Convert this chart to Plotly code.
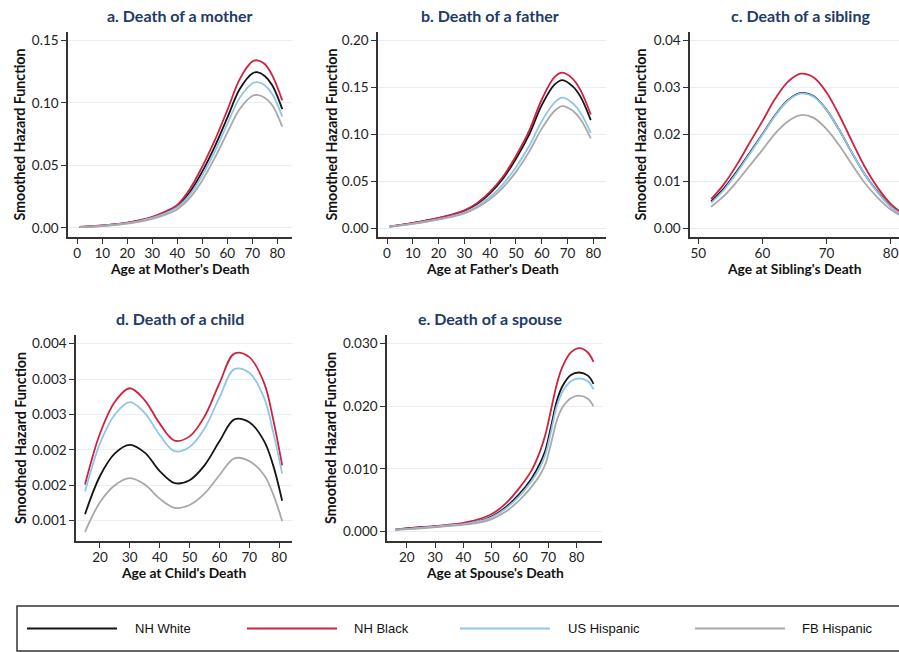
import plotly.graph_objects as go

# ---------------- DATA ----------------
series_names = ["NH White", "NH Black", "US Hispanic", "FB Hispanic"]

# a. Death of a mother
age_mother = [1, 5, 10, 15, 20, 25, 30, 35, 40, 45, 50, 55, 60, 65, 70, 72, 75, 78, 82]
mother_white = [0.0008, 0.0012, 0.0019, 0.0028, 0.0040, 0.0058, 0.0085, 0.0122, 0.0175, 0.0285, 0.045, 0.065, 0.088, 0.111, 0.1235, 0.1245, 0.1215, 0.114, 0.095]
mother_black = [0.0008, 0.0013, 0.0020, 0.0030, 0.0043, 0.0062, 0.0090, 0.0130, 0.0185, 0.031, 0.049, 0.070, 0.094, 0.119, 0.1330, 0.1340, 0.1310, 0.122, 0.102]
mother_ushisp = [0.0007, 0.0011, 0.0018, 0.0026, 0.0038, 0.0055, 0.0080, 0.0115, 0.0165, 0.0265, 0.042, 0.061, 0.083, 0.104, 0.1155, 0.1165, 0.1140, 0.107, 0.089]
mother_fbhisp = [0.0007, 0.0010, 0.0016, 0.0024, 0.0035, 0.0050, 0.0072, 0.0104, 0.0150, 0.024, 0.038, 0.056, 0.076, 0.095, 0.1055, 0.1063, 0.1040, 0.098, 0.081]

# b. Death of a father
age_father = [1, 5, 10, 15, 20, 25, 30, 35, 40, 45, 50, 55, 60, 65, 68, 72, 75, 79]
father_white = [0.0018, 0.0034, 0.0055, 0.0080, 0.0107, 0.0140, 0.0185, 0.026, 0.0375, 0.053, 0.074, 0.099, 0.131, 0.153, 0.1577, 0.151, 0.140, 0.115]
father_black = [0.0018, 0.0035, 0.0057, 0.0082, 0.0110, 0.0145, 0.0190, 0.027, 0.0390, 0.055, 0.077, 0.103, 0.137, 0.161, 0.1655, 0.159, 0.147, 0.121]
father_ushisp = [0.0016, 0.0030, 0.0050, 0.0072, 0.0097, 0.0127, 0.0167, 0.0235, 0.0335, 0.047, 0.065, 0.087, 0.114, 0.134, 0.1390, 0.133, 0.123, 0.1016]
father_fbhisp = [0.0015, 0.0028, 0.0047, 0.0068, 0.0092, 0.0120, 0.0157, 0.0220, 0.0310, 0.0435, 0.060, 0.081, 0.106, 0.125, 0.1300, 0.125, 0.116, 0.0956]

# c. Death of a sibling
age_sibling = [52, 54, 56, 58, 60, 62, 64, 66, 68, 70, 72, 74, 76, 78, 80, 82]
sibling_white = [0.0057, 0.0085, 0.0121, 0.0160, 0.0200, 0.0241, 0.0273, 0.0288, 0.0281, 0.0252, 0.0209, 0.0160, 0.0114, 0.0077, 0.0047, 0.0028]
sibling_black = [0.0062, 0.0094, 0.0135, 0.0182, 0.0228, 0.0276, 0.0312, 0.0329, 0.0321, 0.0289, 0.0240, 0.0184, 0.0130, 0.0086, 0.0052, 0.0030]
sibling_ushisp = [0.0054, 0.0082, 0.0118, 0.0158, 0.0199, 0.0240, 0.0272, 0.0287, 0.0280, 0.0252, 0.0209, 0.0160, 0.0114, 0.0076, 0.0046, 0.0027]
sibling_fbhisp = [0.0046, 0.0069, 0.0099, 0.0133, 0.0167, 0.0202, 0.0228, 0.0241, 0.0235, 0.0211, 0.0176, 0.0135, 0.0096, 0.0065, 0.0040, 0.0024]

# d. Death of a child
age_child = [15, 20, 25, 30, 35, 40, 45, 50, 55, 60, 65, 70, 75, 78, 81]
child_white = [0.00109, 0.00163, 0.00195, 0.00207, 0.00196, 0.00170, 0.00153, 0.00157, 0.00178, 0.00212, 0.00243, 0.00239, 0.00212, 0.00178, 0.00128]
child_black = [0.00151, 0.00223, 0.00268, 0.00287, 0.00270, 0.00237, 0.00213, 0.00219, 0.00247, 0.00294, 0.00336, 0.00331, 0.00294, 0.00243, 0.00178]
child_ushisp = [0.00141, 0.00209, 0.00250, 0.002675, 0.00252, 0.00221, 0.00198, 0.00204, 0.00230, 0.00274, 0.00314, 0.00309, 0.00273, 0.00225, 0.001665]
child_fbhisp = [0.00084, 0.00126, 0.00150, 0.00160, 0.00151, 0.00131, 0.00118, 0.00122, 0.00138, 0.00164, 0.00188, 0.00184, 0.00164, 0.00137, 0.000995]

# e. Death of a spouse
age_spouse = [16, 20, 25, 30, 35, 40, 45, 50, 55, 60, 64, 67, 69, 71, 73, 75, 78, 81, 84, 86]
spouse_white = [0.0003, 0.0005, 0.0007, 0.0008, 0.0010, 0.0012, 0.0016, 0.0024, 0.0039, 0.0061, 0.0084, 0.0108, 0.0130, 0.0168, 0.0208, 0.0232, 0.0250, 0.0254, 0.0249, 0.0236]
spouse_black = [0.0003, 0.0005, 0.0007, 0.0009, 0.0011, 0.0014, 0.0019, 0.0028, 0.0045, 0.0071, 0.0097, 0.0127, 0.0155, 0.0195, 0.0235, 0.0263, 0.0286, 0.0293, 0.0286, 0.0271]
spouse_ushisp = [0.0003, 0.0004, 0.0006, 0.0008, 0.0010, 0.0012, 0.0016, 0.0023, 0.0037, 0.0058, 0.0080, 0.0102, 0.0123, 0.0160, 0.0200, 0.0223, 0.0240, 0.02445, 0.0240, 0.0227]
spouse_fbhisp = [0.0003, 0.0004, 0.0005, 0.0007, 0.0009, 0.0011, 0.0014, 0.0020, 0.0032, 0.0051, 0.0071, 0.0090, 0.0108, 0.0141, 0.0177, 0.0198, 0.0213, 0.0217, 0.0212, 0.0200]

panel_titles = ["a. Death of a mother", "b. Death of a father", "c. Death of a sibling",
                "d. Death of a child", "e. Death of a spouse"]
x_titles = ["Age at Mother's Death", "Age at Father's Death", "Age at Sibling's Death",
            "Age at Child's Death", "Age at Spouse's Death"]
y_title = "Smoothed Hazard Function"

x_ticks_a = [0, 10, 20, 30, 40, 50, 60, 70, 80]
x_ticks_c = [50, 60, 70, 80]
x_ticks_d = [20, 30, 40, 50, 60, 70, 80]
y_ticks_a = [0.0, 0.05, 0.10, 0.15]
y_ticks_b = [0.0, 0.05, 0.10, 0.15, 0.20]
y_ticks_c = [0.0, 0.01, 0.02, 0.03, 0.04]
y_ticks_d = [0.001, 0.0015, 0.002, 0.0025, 0.003, 0.0035]
y_ticklabels_d = ["0.001", "0.002", "0.002", "0.003", "0.003", "0.004"]
y_ticks_e = [0.0, 0.01, 0.02, 0.03]

# ---------------- STYLE ----------------
W, H = 899, 652
colors = ["#151515", "#CF2140", "#8EC5EB", "#A8A8A8"]
FONT = "Lato, 'Open Sans', sans-serif"
TITLE_COLOR = "#223A66"
AXIS_COLOR = "#333333"
GRID_COLOR = "#E6EFF7"
TICK_SIZE = 13.5
XTITLE_SIZE = 13.8
YTITLE_SIZE = 14.2

def xd(l, r):
    return [l / W, min(r / W, 1.0)]

def yd(top, bottom):
    return [1 - bottom / H, 1 - top / H]

panels = [
    dict(ages=age_mother, ys=[mother_white, mother_black, mother_ushisp, mother_fbhisp],
         dom_x=xd(68, 292), dom_y=yd(32, 237), xr=[-3.7, 85.9], yr=[-0.0072, 0.1566],
         xt=x_ticks_a, yt=y_ticks_a, yfmt="{:.2f}", title_x=180, ytitle_x=19),
    dict(ages=age_father, ys=[father_white, father_black, father_ushisp, father_fbhisp],
         dom_x=xd(378, 606), dom_y=yd(32, 237), xr=[-3.5, 84.9], yr=[-0.0093, 0.2088],
         xt=x_ticks_a, yt=y_ticks_b, yfmt="{:.2f}", title_x=490, ytitle_x=331),
    dict(ages=age_sibling, ys=[sibling_white, sibling_black, sibling_ushisp, sibling_fbhisp],
         dom_x=xd(690, 899), dom_y=yd(32, 237), xr=[48.7, 81.3], yr=[-0.00185, 0.04177],
         xt=x_ticks_c, yt=y_ticks_c, yfmt="{:.2f}", title_x=800, ytitle_x=640),
    dict(ages=age_child, ys=[child_white, child_black, child_ushisp, child_fbhisp],
         dom_x=xd(76, 292), dom_y=yd(335, 541), xr=[11.97, 84.3], yr=[0.000711, 0.003623],
         xt=x_ticks_d, yt=y_ticks_d, ytext=y_ticklabels_d, title_x=180, ytitle_x=20),
    dict(ages=age_spouse, ys=[spouse_white, spouse_black, spouse_ushisp, spouse_fbhisp],
         dom_x=xd(387, 602), dom_y=yd(335, 541), xr=[13.0, 89.0], yr=[-0.0015, 0.03139],
         xt=x_ticks_d, yt=y_ticks_e, yfmt="{:.3f}", title_x=490, ytitle_x=330),
]

fig = go.Figure()
annotations = []
shapes = []

for i, p in enumerate(panels):
    n = i + 1
    xa = "x" if n == 1 else f"x{n}"
    ya = "y" if n == 1 else f"y{n}"
    for s, (name, yv) in enumerate(zip(series_names, p["ys"])):
        fig.add_trace(go.Scatter(
            x=p["ages"], y=yv, mode="lines", name=name, showlegend=False,
            line=dict(color=colors[s], width=1.8, shape="spline", smoothing=1.0),
            xaxis=xa, yaxis=ya, hoverinfo="x+y+name"))
    ytext = p.get("ytext") or [p["yfmt"].format(v) for v in p["yt"]]
    xkey = "xaxis" if n == 1 else f"xaxis{n}"
    ykey = "yaxis" if n == 1 else f"yaxis{n}"
    fig.update_layout(**{
        xkey: dict(domain=p["dom_x"], range=p["xr"], anchor=ya,
                   tickmode="array", tickvals=p["xt"], ticktext=[str(v) for v in p["xt"]],
                   showgrid=False, zeroline=False, showline=True, linecolor=AXIS_COLOR,
                   linewidth=1.5, ticks="outside", ticklen=5, tickwidth=1.2,
                   ticklabelstandoff=-2,
                   tickcolor=AXIS_COLOR, tickfont=dict(family=FONT, size=TICK_SIZE, color="#222222")),
        ykey: dict(domain=p["dom_y"], range=p["yr"], anchor=xa,
                   tickmode="array", tickvals=p["yt"], ticktext=ytext,
                   showgrid=True, gridcolor=GRID_COLOR, gridwidth=1, zeroline=False,
                   showline=True, linecolor=AXIS_COLOR, linewidth=1.5,
                   ticks="outside", ticklen=5, tickwidth=1.2, tickcolor=AXIS_COLOR,
                   tickfont=dict(family=FONT, size=TICK_SIZE, color="#222222")),
    })
    top_px = (1 - p["dom_y"][1]) * H
    bot_px = (1 - p["dom_y"][0]) * H
    # panel title
    annotations.append(dict(text=f"<b>{panel_titles[i]}</b>", xref="paper", yref="paper",
                            x=p["title_x"] / W, y=1 - (top_px - 17) / H,
                            xanchor="center", yanchor="middle", showarrow=False,
                            font=dict(family=FONT, size=16, color=TITLE_COLOR)))
    # x title
    xc = (p["dom_x"][0] + p["dom_x"][1]) / 2 * W
    if n == 3:
        xc = 794
    annotations.append(dict(text=f"<b>{x_titles[i]}</b>", xref="paper", yref="paper",
                            x=xc / W, y=1 - (bot_px + 31) / H,
                            xanchor="center", yanchor="middle", showarrow=False,
                            font=dict(family=FONT, size=XTITLE_SIZE, color="#111111")))
    # y title
    annotations.append(dict(text=f"<b>{y_title}</b>", xref="paper", yref="paper",
                            x=p["ytitle_x"] / W, y=(p["dom_y"][0] + p["dom_y"][1]) / 2,
                            xanchor="center", yanchor="middle", textangle=-90, showarrow=False,
                            font=dict(family=FONT, size=YTITLE_SIZE, color="#111111")))

# ---------------- LEGEND (drawn box) ----------------
leg_top, leg_bot = 606, 651
shapes.append(dict(type="rect", xref="paper", yref="paper",
                   x0=17 / W, x1=1.02, y0=1 - leg_bot / H, y1=1 - leg_top / H,
                   line=dict(color="#333333", width=1.5), fillcolor="rgba(0,0,0,0)"))
leg_line_x = [27, 247, 460, 695]
leg_text_x = [133, 352, 566, 800]
leg_y = 1 - 628.5 / H
for s, name in enumerate(series_names):
    shapes.append(dict(type="line", xref="paper", yref="paper",
                       x0=leg_line_x[s] / W, x1=(leg_line_x[s] + 90) / W, y0=leg_y, y1=leg_y,
                       line=dict(color=colors[s], width=2.2)))
    annotations.append(dict(text=name, xref="paper", yref="paper",
                            x=leg_text_x[s] / W, y=leg_y, xanchor="left", yanchor="middle",
                            showarrow=False,
                            font=dict(family="'Liberation Sans', Arial, sans-serif",
                                      size=13, color="#111111")))

fig.update_layout(
    width=W, height=H,
    margin=dict(l=0, r=0, t=0, b=0),
    paper_bgcolor="white", plot_bgcolor="white",
    annotations=annotations, shapes=shapes,
    showlegend=False,
)

fig.write_html("out.html", config={"displayModeBar": False},
               post_script="document.body.style.margin='0';document.body.style.overflow='hidden';")
